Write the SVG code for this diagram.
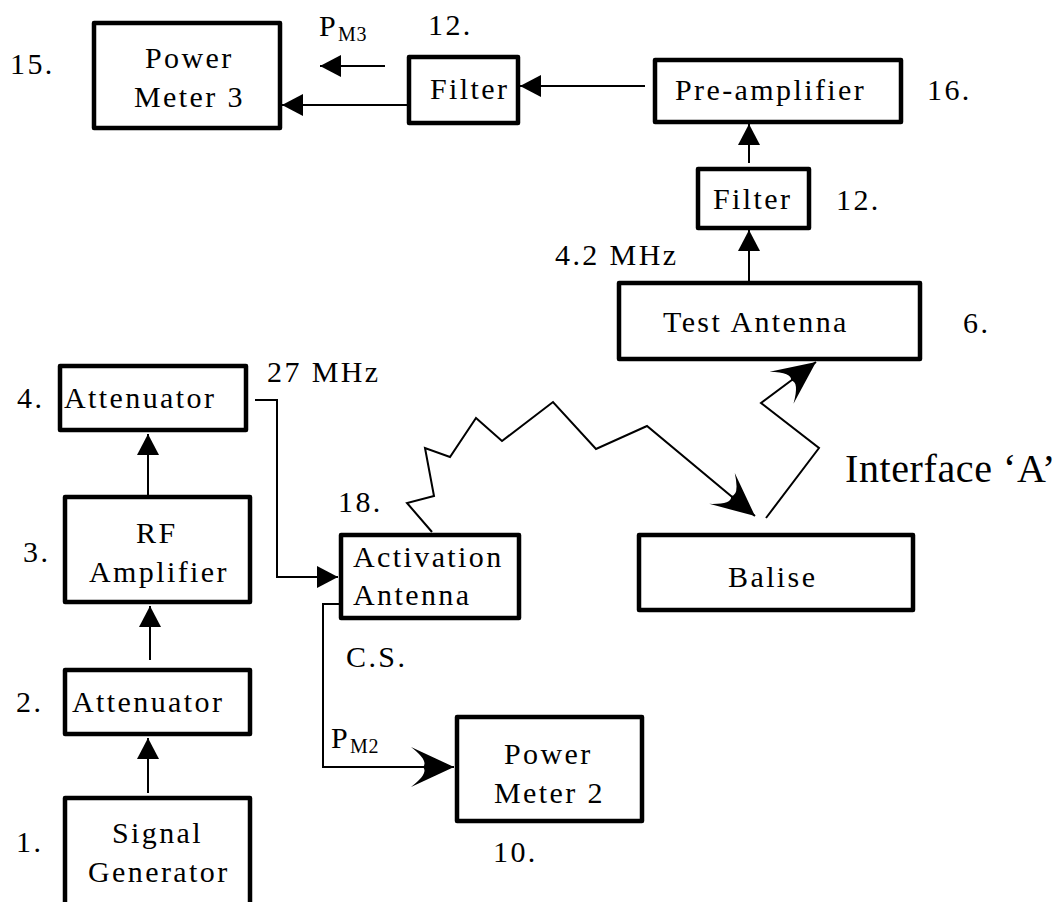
<svg xmlns="http://www.w3.org/2000/svg" width="1061" height="902" viewBox="0 0 1061 902" font-family="'Liberation Serif','Times New Roman',serif">
<style>
.box{fill:#fff;stroke:#000;stroke-width:4.5;stroke-linejoin:round}
.t{font-family:"Liberation Serif","Times New Roman",serif;font-size:30px;letter-spacing:2.4px;fill:#000}
.sub{font-size:20px;letter-spacing:0.5px}
.big{font-size:40px;letter-spacing:0.6px}
.c{fill:none;stroke:#000;stroke-width:2}
</style>
<defs>
<marker id="tri" markerUnits="userSpaceOnUse" viewBox="0 0 21 22" refX="21" refY="11" markerWidth="21" markerHeight="22" orient="auto">
<path d="M0,0 L21,11 L0,22 z" fill="#000"/>
</marker>
<marker id="stealth" markerUnits="userSpaceOnUse" viewBox="0 0 44 44" refX="43" refY="22" markerWidth="44" markerHeight="44" orient="auto">
<path d="M43,22 L0,2 Q18,16 12,22 Q18,28 0,42 z" fill="#000"/>
</marker>
</defs>

<g id="connectors">
<path class="c" d="M645,86 L520,86" marker-end="url(#tri)"/>
<path class="c" d="M407,105 L282,105" marker-end="url(#tri)"/>
<path class="c" d="M385,66 L320,66" marker-end="url(#tri)"/>
<path class="c" d="M749,163 L749,124" marker-end="url(#tri)"/>
<path class="c" d="M749,281 L749,230" marker-end="url(#tri)"/>
<path class="c" d="M148,793 L148,738" marker-end="url(#tri)"/>
<path class="c" d="M150,660 L150,606" marker-end="url(#tri)"/>
<path class="c" d="M148,498 L148,434" marker-end="url(#tri)"/>
<path class="c" d="M255,400 L277,400 L277,577 L338,577" marker-end="url(#tri)"/>
<path class="c" d="M339,604 L323,604 L323,767 L454,767" marker-end="url(#stealth)"/>
<path class="c" d="M432,532 L407,503 L434,496 L425,448 L450,457 L476,418 L502,441 L553,402 L596,449 L647,426 L755,516" marker-end="url(#stealth)"/>
<path class="c" d="M766,518 L819,448 L761,403 L816,362" marker-end="url(#stealth)"/>
</g>

<g id="power-meter-3">
<rect class="box" x="94" y="23" width="186" height="105"/>
<text class="t" x="145" y="68">Power</text>
<text class="t" x="134" y="107">Meter 3</text>
<text class="t" x="10" y="74">15.</text>
</g>
<g id="pm3-label">
<text class="t" x="319" y="36">P<tspan class="sub" dy="5">M3</tspan></text>
</g>
<g id="filter-top">
<rect class="box" x="409" y="57" width="109" height="66"/>
<text class="t" x="430" y="99">Filter</text>
<text class="t" x="428" y="35">12.</text>
</g>
<g id="pre-amplifier">
<rect class="box" x="655" y="60" width="246" height="62"/>
<text class="t" x="675" y="100">Pre-amplifier</text>
<text class="t" x="927" y="100">16.</text>
</g>
<g id="filter-mid">
<rect class="box" x="698" y="169" width="111" height="59"/>
<text class="t" x="713" y="209">Filter</text>
<text class="t" x="836" y="210">12.</text>
</g>
<g id="test-antenna">
<rect class="box" x="619" y="283" width="301" height="76"/>
<text class="t" x="663" y="332">Test Antenna</text>
<text class="t" x="963" y="333">6.</text>
<text class="t" x="555" y="265">4.2 MHz</text>
</g>
<g id="interface-a">
<text class="t big" x="845" y="482">Interface ‘A’</text>
</g>
<g id="attenuator-4">
<rect class="box" x="60" y="366" width="186" height="64"/>
<text class="t" x="64" y="408">Attenuator</text>
<text class="t" x="17" y="408">4.</text>
<text class="t" x="267" y="382">27 MHz</text>
</g>
<g id="rf-amplifier">
<rect class="box" x="65" y="497" width="185" height="105"/>
<text class="t" x="136" y="543">RF</text>
<text class="t" x="89" y="582">Amplifier</text>
<text class="t" x="23" y="562">3.</text>
</g>
<g id="attenuator-2">
<rect class="box" x="65" y="670" width="185" height="64"/>
<text class="t" x="72" y="712">Attenuator</text>
<text class="t" x="16" y="712">2.</text>
</g>
<g id="signal-generator">
<rect class="box" x="65" y="798" width="185" height="120"/>
<text class="t" x="112" y="843">Signal</text>
<text class="t" x="88" y="882">Generator</text>
<text class="t" x="16" y="852">1.</text>
</g>
<g id="activation-antenna">
<rect class="box" x="341" y="535" width="178" height="83"/>
<text class="t" x="353" y="567">Activation</text>
<text class="t" x="353" y="605">Antenna</text>
<text class="t" x="338" y="512">18.</text>
<text class="t" x="346" y="667">C.S.</text>
</g>
<g id="pm2-label">
<text class="t" x="331" y="748">P<tspan class="sub" dy="5">M2</tspan></text>
</g>
<g id="balise">
<rect class="box" x="639" y="535" width="274" height="75"/>
<text class="t" x="728" y="587">Balise</text>
</g>
<g id="power-meter-2">
<rect class="box" x="457" y="717" width="185" height="104"/>
<text class="t" x="504" y="764">Power</text>
<text class="t" x="494" y="803">Meter 2</text>
<text class="t" x="493" y="862">10.</text>
</g>
</svg>
